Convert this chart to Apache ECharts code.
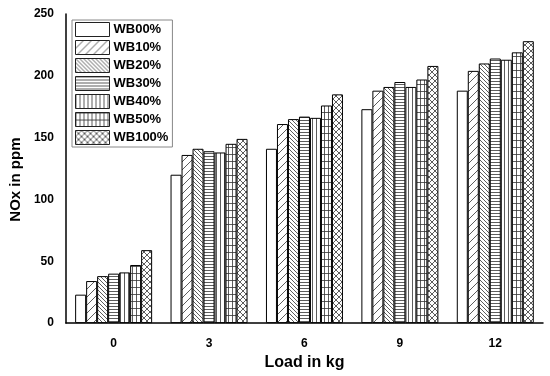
<!DOCTYPE html>
<html>
<head>
<meta charset="utf-8">
<script src="https://cdn.jsdelivr.net/npm/echarts@6/dist/echarts.min.js"></script>
<style>
html,body{margin:0;padding:0;background:#fff;}
#chart{width:550px;height:376px;}
</style>
</head>
<body>
<div id="chart"></div>
<script>
var categories = ['0', '3', '6', '9', '12'];
var seriesNames = ['WB00%', 'WB10%', 'WB20%', 'WB30%', 'WB40%', 'WB50%', 'WB100%'];
var wb00 = [23, 120, 141, 173, 188];
var wb10 = [34, 136, 161, 188, 204];
var wb20 = [38, 141, 165, 191, 210];
var wb30 = [40, 139, 167, 195, 214];
var wb40 = [41, 138, 166, 191, 213];
var wb50 = [47, 145, 176, 197, 219];
var wb100 = [59, 149, 185, 208, 228];
var yTicks = [0, 50, 100, 150, 200, 250];

var seriesValues = [wb00, wb10, wb20, wb30, wb40, wb50, wb100];
var FONT = '"Liberation Sans", Arial, sans-serif';

function makePattern(kind) {
  var c = document.createElement('canvas');
  var w = 8, h = 8;
  if (kind === 'fwd') { w = 8; h = 8; }
  if (kind === 'back') { w = 4; h = 4; }
  if (kind === 'hor') { w = 4; h = 3; }
  if (kind === 'ver') { w = 4; h = 4; }
  if (kind === 'grid') { w = 4; h = 7; }
  if (kind === 'cross') { w = 6; h = 6; }
  c.width = w; c.height = h;
  var g = c.getContext('2d');
  g.fillStyle = '#fff';
  g.fillRect(0, 0, w, h);
  g.strokeStyle = '#333';
  g.lineWidth = 0.8;
  g.beginPath();
  if (kind === 'fwd') {
    g.moveTo(-1, h + 1); g.lineTo(w + 1, -1);
    g.moveTo(-1, 1); g.lineTo(1, -1);
    g.moveTo(w - 1, h + 1); g.lineTo(w + 1, h - 1);
  } else if (kind === 'back') {
    g.moveTo(-1, -1); g.lineTo(w + 1, h + 1);
    g.moveTo(-1, h - 1); g.lineTo(1, h + 1);
    g.moveTo(w - 1, -1); g.lineTo(w + 1, 1);
  } else if (kind === 'hor') {
    g.moveTo(0, 0.5); g.lineTo(w, 0.5);
  } else if (kind === 'ver') {
    g.moveTo(0.5, 0); g.lineTo(0.5, h);
  } else if (kind === 'grid') {
    g.moveTo(0.5, 0); g.lineTo(0.5, h);
    g.moveTo(0, 0.5); g.lineTo(w, 0.5);
  } else if (kind === 'cross') {
    g.moveTo(0, 0); g.lineTo(w, h);
    g.moveTo(0, h); g.lineTo(w, 0);
  }
  g.stroke();
  return { image: c, repeat: 'repeat' };
}

var fills = [
  '#ffffff',
  makePattern('fwd'),
  makePattern('back'),
  makePattern('hor'),
  makePattern('ver'),
  makePattern('grid'),
  makePattern('cross')
];

var chart = echarts.init(document.getElementById('chart'), null, { renderer: 'canvas' });

var series = seriesNames.map(function (name, i) {
  return {
    name: name,
    type: 'bar',
    data: seriesValues[i],
    barWidth: 11,
    barGap: '0%',
    itemStyle: { color: fills[i], borderColor: '#000', borderWidth: 1 },
    emphasis: { disabled: true }
  };
});

chart.setOption({
  animation: false,
  backgroundColor: '#fff',
  grid: { left: 64, right: 7, top: 14, bottom: 52 },
  legend: {
    orient: 'vertical',
    left: 72,
    top: 20,
    padding: [2, 4, 2, 3],
    borderColor: '#888',
    borderWidth: 1,
    itemWidth: 34,
    itemHeight: 14,
    itemGap: 3,
    icon: 'rect',
    itemStyle: { borderWidth: 1, borderColor: '#222' },
    textStyle: { fontFamily: FONT, fontWeight: 'bold', fontSize: 13, color: '#000', padding: [0, 0, 0, -1] },
    data: seriesNames
  },
  xAxis: {
    type: 'category',
    data: categories,
    name: 'Load in kg',
    nameLocation: 'middle',
    nameGap: 29,
    nameTextStyle: { fontFamily: FONT, fontWeight: 'bold', fontSize: 16, color: '#000' },
    axisLine: { lineStyle: { color: '#000', width: 1.5 } },
    axisTick: { show: false },
    axisLabel: { fontFamily: FONT, fontWeight: 'bold', fontSize: 12, color: '#000', margin: 15 },
    splitLine: { show: false }
  },
  yAxis: {
    type: 'value',
    min: 0,
    max: 250,
    interval: 50,
    name: 'NOx in ppm',
    nameLocation: 'middle',
    nameGap: 39,
    nameRotate: 90,
    nameTextStyle: { fontFamily: FONT, fontWeight: 'bold', fontSize: 15, color: '#000', padding: [0, 22, 0, 0] },
    axisLine: { show: true, lineStyle: { color: '#000', width: 1.5 } },
    axisTick: { show: false },
    axisLabel: {
      fontFamily: FONT, fontWeight: 'bold', fontSize: 12, color: '#000', margin: 12,
      formatter: function (v) { return yTicks.indexOf(v) >= 0 ? String(v) : ''; }
    },
    splitLine: { show: false }
  },
  series: series
});
</script>
</body>
</html>
